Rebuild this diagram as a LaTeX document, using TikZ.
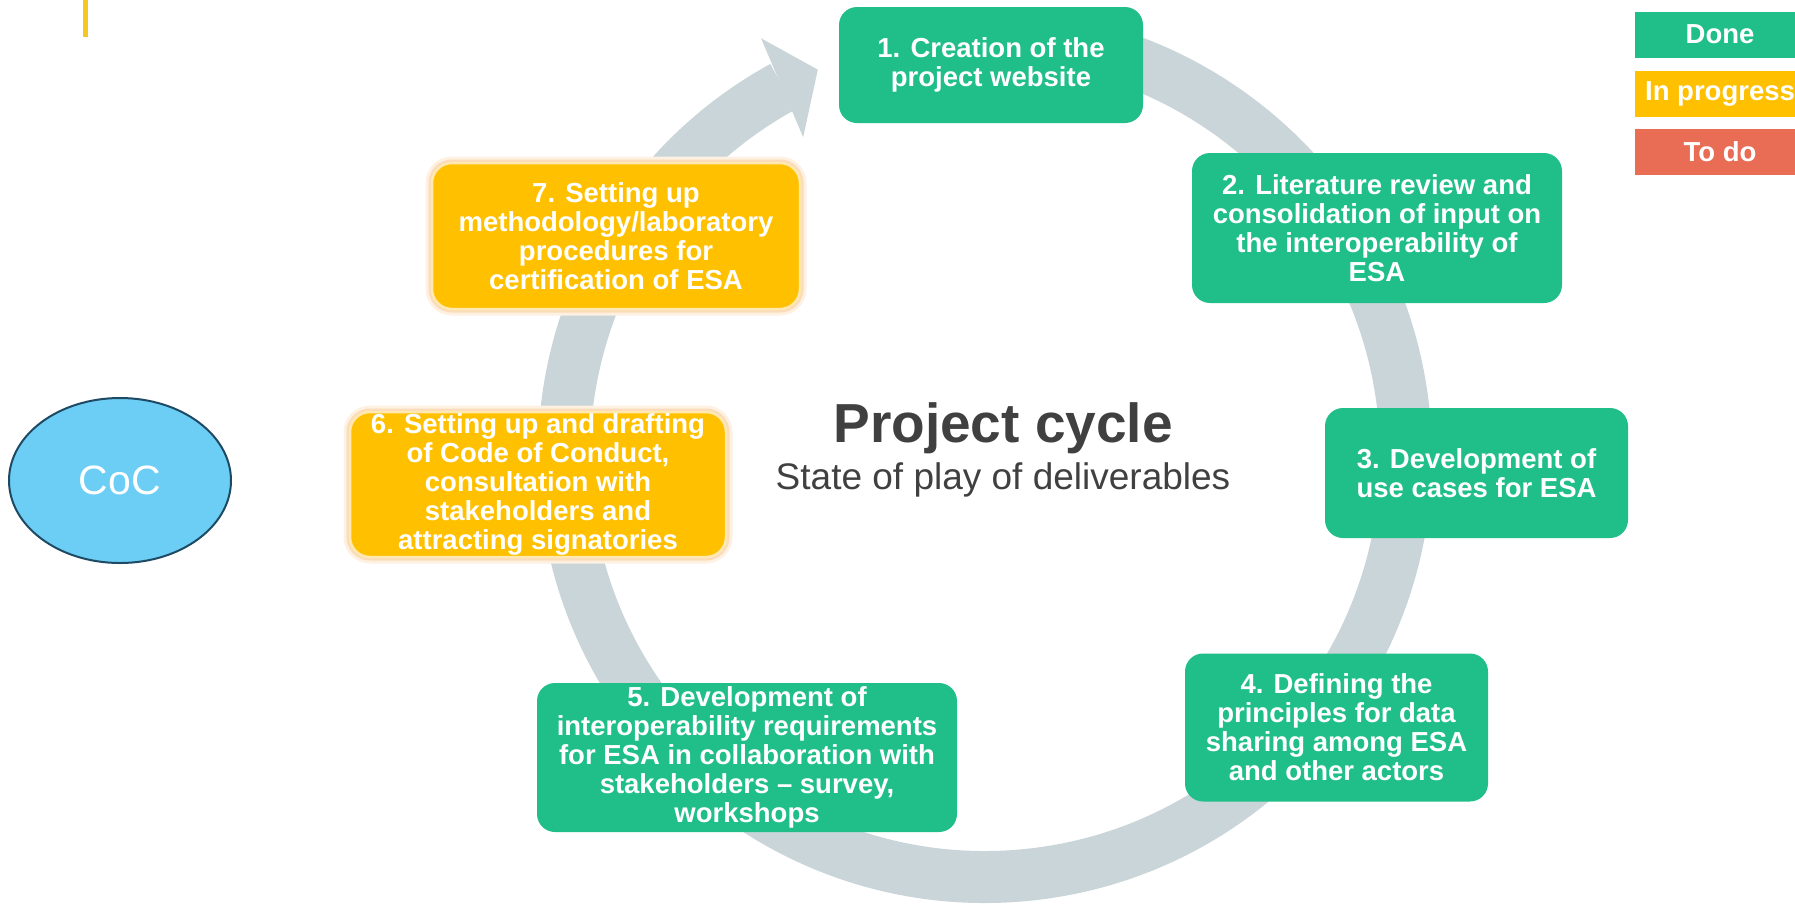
\documentclass[tikz,border=0pt]{standalone}
\usepackage{fontspec}
\setmainfont{Liberation Sans}
\usepackage{tikz}
\usepackage{xcolor}
\usetikzlibrary{shapes.geometric}

\definecolor{donegreen}{HTML}{20BF89}
\definecolor{proggold}{HTML}{FFC000}
\definecolor{todored}{HTML}{E96C55}
\definecolor{ringgray}{HTML}{C9D5D9}
\definecolor{glowsoft}{HTML}{FEF1E2}
\definecolor{glowpeach}{HTML}{FBDCBA}
\definecolor{edgecream}{HTML}{FFE9B0}
\definecolor{cocblue}{HTML}{6CCDF5}
\definecolor{cocnavy}{HTML}{1E4A64}
\definecolor{titlegray}{HTML}{404040}
\definecolor{markgold}{HTML}{F6C623}

\newcommand{\boxfont}{\bfseries\fontsize{27.5}{29}\selectfont}

\begin{document}
\begin{tikzpicture}[x=1pt, y=-1pt,
  done/.style={rectangle, rounded corners=18pt, fill=donegreen, text=white, align=center, inner sep=0pt, font=\boxfont},
  inprog/.style={rectangle, rounded corners=20pt, fill=proggold, draw=edgecream, line width=2.5pt, text=white, align=center, inner sep=0pt, font=\boxfont,
    preaction={draw=glowsoft, line width=13pt}, preaction={draw=glowpeach, line width=7pt}},
  legend/.style={rectangle, minimum width=170pt, minimum height=46pt, text=white, inner sep=0pt, font=\boxfont}]
\useasboundingbox (0,0) rectangle (1795,903);

\fill[markgold] (83,0) rectangle (88,37);

\coordinate (hub) at (985,456);
\draw[ringgray, line width=52pt] ([shift={(-95:421)}]hub) arc[start angle=-95, end angle=241.3, radius=421];
\fill[ringgray] ([shift={(-118.2:474)}]hub) -- ([shift={(-113.4:421)}]hub) -- ([shift={(-119.7:367)}]hub) -- cycle;

\node[done, minimum width=304pt, minimum height=116pt] (s1) at (991,65) {1. Creation of the\\project website};
\node[done, minimum width=370pt, minimum height=150pt] (s2) at (1377,228) {2. Literature review and\\consolidation of input on\\the interoperability of\\ESA};
\node[done, minimum width=303pt, minimum height=130pt] (s3) at (1476.5,473) {3. Development of\\use cases for ESA};
\node[done, minimum width=303pt, minimum height=148pt] (s4) at (1336.5,727.5) {4. Defining the\\principles for data\\sharing among ESA\\and other actors};
\node[done, minimum width=420pt, minimum height=149pt] (s5) at (747,757.5) {5. Development of\\interoperability requirements\\for ESA in collaboration with\\stakeholders – survey,\\workshops};
\node[inprog, minimum width=376pt, minimum height=145pt] (s6) at (538,484.5) {6. Setting up and drafting\\of Code of Conduct,\\consultation with\\stakeholders and\\attracting signatories};
\node[inprog, minimum width=368pt, minimum height=146pt] (s7) at (616,236) {7. Setting up\\methodology/laboratory\\procedures for\\certification of ESA};

\node[font=\bfseries\fontsize{55}{60}\selectfont, text=titlegray, anchor=base] (title) at (1003,442) {Project cycle};
\node[font=\fontsize{37}{40}\selectfont, text=titlegray, anchor=base] (subtitle) at (1003,489) {State of play of deliverables};

\node[ellipse, draw=cocnavy, fill=cocblue, line width=2pt, minimum width=222pt, minimum height=165pt, inner sep=0pt, text=white, font=\fontsize{41}{45}\selectfont] (coc) at (120,480.5) {CoC};

\node[legend, fill=donegreen] (kdone) at (1720,34.5) {Done};
\node[legend, fill=proggold] (kprog) at (1720,93.5) {In progress};
\node[legend, fill=todored] (ktodo) at (1720,152) {To do};
\end{tikzpicture}
\end{document}
